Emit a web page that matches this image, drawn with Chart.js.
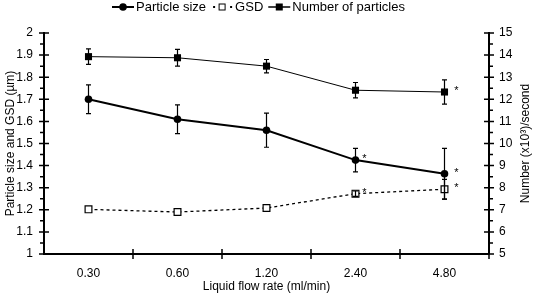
<!DOCTYPE html>
<html>
<head>
<meta charset="utf-8">
<script src="https://cdn.jsdelivr.net/npm/chart.js@4/dist/chart.umd.min.js"></script>
<style>
html,body{margin:0;padding:0;background:#fff;}
#wrap{width:536px;height:298px;position:relative;}
</style>
</head>
<body>
<div id="wrap"><canvas id="c" width="536" height="298"></canvas></div>
<script>
const categories = ['0.30', '0.60', '1.20', '2.40', '4.80'];
const particleSize = [1.70, 1.61, 1.56, 1.425, 1.363];
const particleSizeErr = [0.065, 0.065, 0.077, 0.053, 0.115];
const gsd = [1.202, 1.19, 1.208, 1.273, 1.293];
const gsdErr = [0, 0, 0, 0.012, 0.045];
const numberOfParticles = [13.93, 13.88, 13.50, 12.41, 12.33];
const numberErr = [0.35, 0.38, 0.30, 0.35, 0.55];
const particleStar = [false, false, false, true, true];
const gsdStar = [false, false, false, true, true];
const numberStar = [false, false, false, false, true];
const legendLabels = ['Particle size', 'GSD', 'Number of particles'];

const FONT = '"Liberation Sans", Arial, Helvetica, sans-serif';

const customDraw = {
  id: 'customDraw',
  afterDatasetsDraw(chart) {
    const ctx = chart.ctx;
    const x = chart.scales.x, y = chart.scales.y, y1 = chart.scales.y1;
    const ca = chart.chartArea;
    ctx.save();
    ctx.strokeStyle = '#000';
    ctx.fillStyle = '#000';
    const errSets = [
      [particleSize, particleSizeErr, y],
      [gsd, gsdErr, y],
      [numberOfParticles, numberErr, y1]
    ];
    ctx.lineWidth = 1.2;
    errSets.forEach(([vals, errs, sc]) => {
      vals.forEach((v, i) => {
        if (!errs[i]) return;
        const px = x.getPixelForValue(i);
        const t = sc.getPixelForValue(v + errs[i]);
        const b = sc.getPixelForValue(v - errs[i]);
        ctx.beginPath();
        ctx.moveTo(px, t); ctx.lineTo(px, b);
        ctx.moveTo(px - 2.5, t); ctx.lineTo(px + 2.5, t);
        ctx.moveTo(px - 2.5, b); ctx.lineTo(px + 2.5, b);
        ctx.stroke();
      });
    });
    ctx.font = '11px ' + FONT;
    ctx.textAlign = 'center';
    ctx.textBaseline = 'middle';
    const starSets = [[particleSize, particleStar, y], [gsd, gsdStar, y], [numberOfParticles, numberStar, y1]];
    starSets.forEach(([vals, stars, sc]) => {
      vals.forEach((v, i) => {
        if (!stars[i]) return;
        const px = x.getPixelForValue(i);
        const py = sc.getPixelForValue(v);
        ctx.fillText('*', px + (i === 3 ? 9 : 12), py - 1);
      });
    });
    ctx.lineWidth = 2;
    ctx.beginPath();
    ctx.moveTo(ca.left, y.getPixelForValue(2) - 1);
    ctx.lineTo(ca.left, ca.bottom);
    ctx.lineTo(ca.right, ca.bottom);
    ctx.moveTo(ca.right, ca.bottom);
    ctx.lineTo(ca.right, y1.getPixelForValue(15) - 1);
    ctx.stroke();
    ctx.lineWidth = 1.5;
    ctx.beginPath();
    for (let k = 0; k <= 20; k++) {
      const v = 1 + k * 0.05;
      const py = y.getPixelForValue(v);
      if (k % 2 === 0) { ctx.moveTo(ca.left - 5, py); ctx.lineTo(ca.left + 5, py); }
      else { ctx.moveTo(ca.left - 4, py); ctx.lineTo(ca.left, py); }
    }
    for (let k = 0; k <= 20; k++) {
      const v = 5 + k * 0.5;
      const py = y1.getPixelForValue(v);
      if (k % 2 === 0) { ctx.moveTo(ca.right - 5, py); ctx.lineTo(ca.right + 5, py); }
      else { ctx.moveTo(ca.right, py); ctx.lineTo(ca.right + 4, py); }
    }
    const half = (x.getPixelForValue(1) - x.getPixelForValue(0)) / 2;
    for (let i = 0; i < categories.length; i++) {
      const px = x.getPixelForValue(i) + half;
      ctx.moveTo(px, ca.bottom - 5); ctx.lineTo(px, ca.bottom + 5);
    }
    ctx.stroke();
    ctx.save();
    ctx.font = '12px ' + FONT;
    ctx.textAlign = 'center';
    ctx.textBaseline = 'middle';
    ctx.translate(526, (ca.top + ca.bottom) / 2);
    ctx.rotate(-Math.PI / 2);
    ctx.fillText('Number (x10³)/second', 0, 0);
    ctx.restore();
    ctx.font = '13px ' + FONT;
    ctx.textAlign = 'left';
    ctx.textBaseline = 'middle';
    const symW = 22;
    const gapAfterSym = 2, gapAfterText = 5;
    let total = 0;
    legendLabels.forEach(l => { total += symW + gapAfterSym + ctx.measureText(l).width + gapAfterText; });
    total -= gapAfterText;
    let lx = 258.5 - total / 2;
    const ly = 7;
    legendLabels.forEach((l, idx) => {
      const cx = lx + symW / 2;
      ctx.beginPath();
      if (idx === 0) {
        ctx.lineWidth = 2;
        ctx.moveTo(lx, ly); ctx.lineTo(lx + symW, ly); ctx.stroke();
        ctx.beginPath(); ctx.arc(cx, ly, 3.8, 0, Math.PI * 2); ctx.fill();
      } else if (idx === 1) {
        ctx.fillRect(lx + 2, ly - 1, 2, 2);
        ctx.fillRect(lx + symW - 3, ly - 1, 2, 2);
        ctx.lineWidth = 1; ctx.fillStyle = '#fff';
        ctx.fillRect(cx - 3, ly - 3, 6, 6);
        ctx.strokeRect(cx - 3, ly - 3, 6, 6);
        ctx.fillStyle = '#000';
      } else {
        ctx.lineWidth = 1.5;
        ctx.moveTo(lx, ly); ctx.lineTo(lx + symW, ly); ctx.stroke();
        ctx.fillRect(cx - 3.5, ly - 3.5, 7, 7);
      }
      lx += symW + gapAfterSym;
      ctx.fillText(l, lx, ly + 0.5);
      lx += ctx.measureText(l).width + gapAfterText;
    });
    ctx.restore();
  }
};

new Chart(document.getElementById('c'), {
  type: 'line',
  data: {
    labels: categories,
    datasets: [
      {
        label: legendLabels[0], data: particleSize, yAxisID: 'y',
        borderColor: '#000', backgroundColor: '#000', borderWidth: 2,
        pointStyle: 'circle', pointRadius: 3.8, pointBackgroundColor: '#000', pointBorderWidth: 0,
        tension: 0
      },
      {
        label: legendLabels[1], data: gsd, yAxisID: 'y',
        borderColor: '#000', backgroundColor: '#fff', borderWidth: 1.3, borderDash: [3, 3],
        pointStyle: 'rect', pointRadius: 4.8, pointBackgroundColor: '#fff', pointBorderColor: '#000', pointBorderWidth: 1.2,
        tension: 0
      },
      {
        label: legendLabels[2], data: numberOfParticles, yAxisID: 'y1',
        borderColor: '#000', backgroundColor: '#000', borderWidth: 1,
        pointStyle: 'rect', pointRadius: 5, pointBackgroundColor: '#000', pointBorderWidth: 0,
        tension: 0
      }
    ]
  },
  options: {
    responsive: false,
    animation: false,
    devicePixelRatio: 1,
    layout: { padding: { top: 33, left: 0, right: 0, bottom: 0 } },
    plugins: { legend: { display: false }, tooltip: { enabled: false } },
    scales: {
      x: {
        type: 'category', offset: true,
        grid: { display: false, drawTicks: false, tickLength: 0 }, border: { display: false },
        ticks: { color: '#000', font: { family: FONT, size: 12 }, padding: 12, maxRotation: 0 },
        title: { display: true, text: 'Liquid flow rate (ml/min)', color: '#000', font: { family: FONT, size: 12 }, padding: { top: 0, bottom: 4 } },
        afterFit(s) { s.height = 44; }
      },
      y: {
        position: 'left', min: 1, max: 2,
        grid: { display: false, drawTicks: false, tickLength: 0 }, border: { display: false },
        ticks: { stepSize: 0.1, color: '#000', font: { family: FONT, size: 12 }, padding: 11,
          callback: v => String(+(+v).toFixed(1)) },
        title: { display: true, text: 'Particle size and GSD (µm)', color: '#000', font: { family: FONT, size: 12 }, padding: { top: 3, bottom: 0 } },
        afterFit(s) { s.width = 44; }
      },
      y1: {
        position: 'right', min: 5, max: 15,
        grid: { display: false, drawTicks: false, tickLength: 0 }, border: { display: false },
        ticks: { stepSize: 1, color: '#000', font: { family: FONT, size: 12 }, padding: 10 },
        afterFit(s) { s.width = 47; }
      }
    }
  },
  plugins: [customDraw]
});
</script>
</body>
</html>
